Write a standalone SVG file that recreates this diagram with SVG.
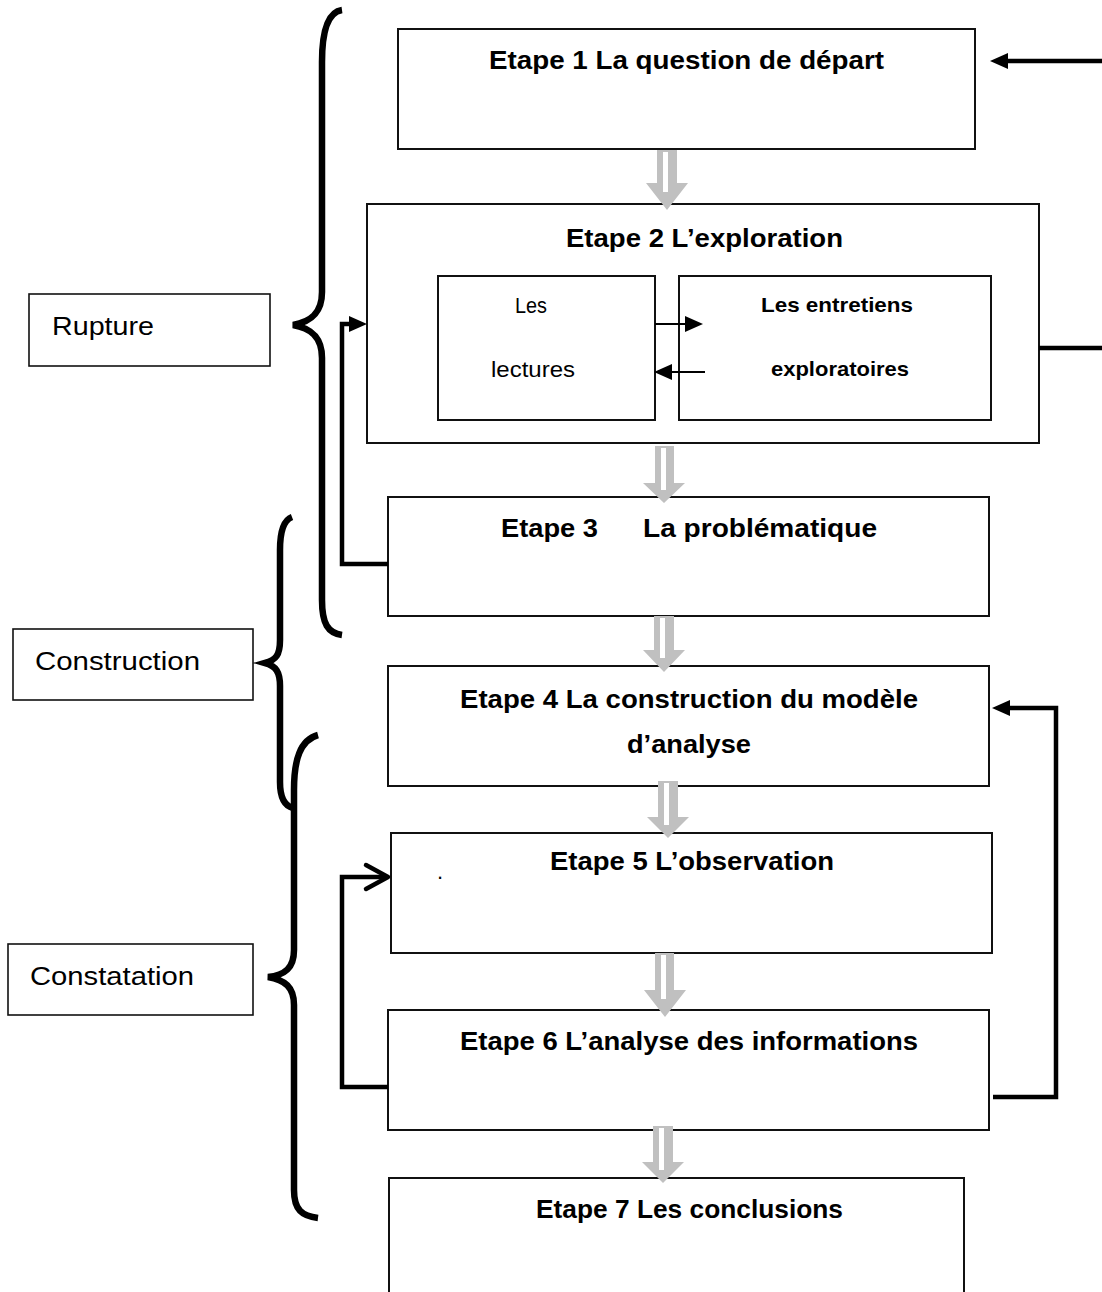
<svg xmlns="http://www.w3.org/2000/svg" width="1102" height="1292" viewBox="0 0 1102 1292">
<style>
.box{fill:#fff;stroke:#111;stroke-width:2}
.lbox{fill:#fff;stroke:#111;stroke-width:1.6}
.t{font-family:"Liberation Sans",Arial,sans-serif;font-weight:bold;font-size:26px;fill:#000}
.r{font-family:"Liberation Sans",Arial,sans-serif;font-size:26px;fill:#000}
.s{font-family:"Liberation Sans",Arial,sans-serif;font-size:22px;fill:#000}
.sb{font-family:"Liberation Sans",Arial,sans-serif;font-weight:bold;font-size:21px;fill:#000}
.brace{fill:none;stroke:#000;stroke-width:6.5;stroke-linecap:butt}
.conn{fill:none;stroke:#000;stroke-width:4.5}
.thin{fill:none;stroke:#000;stroke-width:2}
.garrow{fill:#c0c0c0}
.gstripe{fill:#fff}
</style>
<defs>
<marker id="ah" markerUnits="userSpaceOnUse" markerWidth="18" markerHeight="16" viewBox="0 0 18 16" refX="0" refY="8" orient="auto">
<path d="M0,0 L18,8 L0,16 z" fill="#000"/>
</marker>
</defs>

<g id="rupture"><rect class="lbox" x="29" y="294" width="241" height="72"/><text class="r" x="52" y="335" textLength="102" lengthAdjust="spacingAndGlyphs">Rupture</text></g>
<g id="construction"><rect class="lbox" x="13" y="629" width="240" height="71"/><text class="r" x="35" y="670" textLength="165" lengthAdjust="spacingAndGlyphs">Construction</text></g>
<g id="constatation"><rect class="lbox" x="8" y="944" width="245" height="71"/><text class="r" x="30" y="985" textLength="164" lengthAdjust="spacingAndGlyphs">Constatation</text></g>

<g id="braces">
<path class="brace" d="M342,10 C328,12 322,30 322,62 L322,292 C322,314 310,322 293,325 C310,328 322,336 322,358 L322,600 C322,624 328,633 342,635"/>
<path class="brace" d="M292,517 C284,520 280,530 280,550 L280,640 C280,655 276,660 265,663 C276,666 280,672 280,686 L280,782 C280,798 285,806 293,808"/>
<path class="brace" d="M318,735 C300,740 294,760 294,790 L294,950 C294,968 285,975 268,977 C285,980 294,987 294,1005 L294,1190 C294,1210 302,1216 318,1218"/>
</g>

<g id="etape1"><rect class="box" x="398" y="29" width="577" height="120"/><text class="t" x="489" y="69" textLength="395" lengthAdjust="spacingAndGlyphs">Etape 1 La question de départ</text></g>

<g id="etape2"><rect class="box" x="367" y="204" width="672" height="239"/><text class="t" x="566" y="247" textLength="277" lengthAdjust="spacingAndGlyphs">Etape 2 L’exploration</text></g>
<g id="lectures"><rect class="box" x="438" y="276" width="217" height="144"/><text class="s" x="515" y="313" textLength="32" lengthAdjust="spacingAndGlyphs">Les</text><text class="s" x="491" y="377" textLength="84" lengthAdjust="spacingAndGlyphs">lectures</text></g>
<g id="entretiens"><rect class="box" x="679" y="276" width="312" height="144"/><text class="sb" x="761" y="312" textLength="152" lengthAdjust="spacingAndGlyphs">Les entretiens</text><text class="sb" x="771" y="376" textLength="138" lengthAdjust="spacingAndGlyphs">exploratoires</text></g>

<g id="etape3"><rect class="box" x="388" y="497" width="601" height="119"/><text class="t" y="537"><tspan x="501" textLength="97" lengthAdjust="spacingAndGlyphs">Etape 3</tspan><tspan x="643" textLength="234" lengthAdjust="spacingAndGlyphs">La problématique</tspan></text></g>

<g id="etape4"><rect class="box" x="388" y="666" width="601" height="120"/><text class="t" x="460" y="708" textLength="458" lengthAdjust="spacingAndGlyphs">Etape 4 La construction du modèle</text><text class="t" x="627" y="753" textLength="124" lengthAdjust="spacingAndGlyphs">d’analyse</text></g>

<g id="etape5"><rect class="box" x="391" y="833" width="601" height="120"/><text class="t" x="550" y="870" textLength="284" lengthAdjust="spacingAndGlyphs">Etape 5 L’observation</text><text class="s" x="437" y="879" font-size="10">.</text></g>

<g id="etape6"><rect class="box" x="388" y="1010" width="601" height="120"/><text class="t" x="460" y="1050" textLength="458" lengthAdjust="spacingAndGlyphs">Etape 6 L’analyse des informations</text></g>

<g id="etape7"><rect class="box" x="389" y="1178" width="575" height="140"/><text class="t" x="536" y="1218" textLength="307" lengthAdjust="spacingAndGlyphs">Etape 7 Les conclusions</text></g>

<g id="connectors">
<line class="conn" x1="1102" y1="61" x2="1008" y2="61" marker-end="url(#ah)"/>
<line class="conn" x1="1039" y1="348" x2="1102" y2="348"/>
<polyline class="conn" points="388,564 342,564 342,324 349,324" marker-end="url(#ah)"/>
<line class="thin" x1="655" y1="324" x2="685" y2="324" marker-end="url(#ah)"/>
<line class="thin" x1="705" y1="372" x2="672" y2="372" marker-end="url(#ah)"/>
<polyline class="conn" points="388,1087 342,1087 342,877 386,877"/>
<path class="conn" d="M366,865 L388,877 L366,889" stroke-linecap="round" stroke-linejoin="round"/>
<polyline class="conn" points="993,1097 1056,1097 1056,708 1010,708" marker-end="url(#ah)"/>

<g id="flow-arrows">
<path class="garrow" d="M657,150 L677,150 L677,183 L688,183 L667,210 L646,183 L657,183 z"/><rect class="gstripe" x="663" y="152" width="5" height="40"/>
<path class="garrow" d="M655,446 L674,446 L674,483 L685,483 L664,503 L643,483 L655,483 z"/><rect class="gstripe" x="661" y="448" width="5" height="42"/>
<path class="garrow" d="M654,616 L674,616 L674,650 L685,650 L664,672 L643,650 L654,650 z"/><rect class="gstripe" x="660" y="618" width="5" height="40"/>
<path class="garrow" d="M658,781 L678,781 L678,817 L689,817 L668,838 L647,817 L658,817 z"/><rect class="gstripe" x="664" y="783" width="5" height="42"/>
<path class="garrow" d="M655,953 L674,953 L674,990 L686,990 L665,1017 L644,990 L655,990 z"/><rect class="gstripe" x="661" y="955" width="5" height="44"/>
<path class="garrow" d="M653,1126 L673,1126 L673,1162 L684,1162 L663,1183 L642,1162 L653,1162 z"/><rect class="gstripe" x="659" y="1128" width="5" height="42"/>
</g>
</g>
</svg>
